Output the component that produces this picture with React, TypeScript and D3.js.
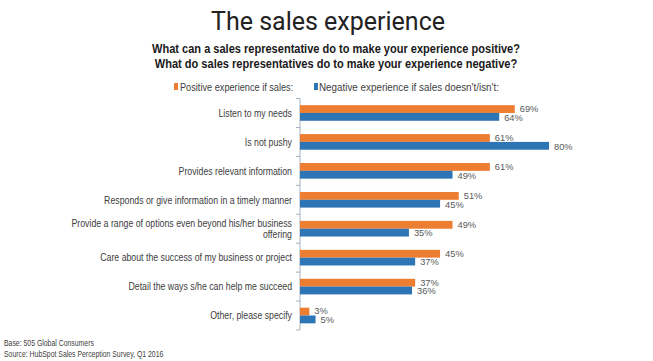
import React from 'react';
import * as d3 from 'd3';

const categories = [
  "Listen to my needs",
  "Is not pushy",
  "Provides relevant information",
  "Responds or give information in a timely manner",
  "Provide a range of options even beyond his/her business offering",
  "Care about the success of my business or project",
  "Detail the ways s/he can help me succeed",
  "Other, please specify",
];
const positive = [69, 61, 61, 51, 49, 45, 37, 3];
const negative = [64, 80, 49, 45, 35, 37, 36, 5];
const seriesNames = ["Positive experience if sales:", "Negative experience if sales doesn't/isn't:"];
const seriesColors = ["#ED7D31", "#2E75B6"];

const sans = "'Liberation Sans', Arial, sans-serif";

const wrap = (s: string, max: number) => {
  const lines: string[] = [];
  let cur = "";
  s.split(" ").forEach(w => {
    if (cur && (cur + " " + w).length > max) { lines.push(cur); cur = w; }
    else cur = cur ? cur + " " + w : w;
  });
  if (cur) lines.push(cur);
  return lines;
};

// narrow look: Arial squeezed horizontally
type NProps = { x: number, y: number, size: number, anchor?: string, weight?: string, fill?: string, sx?: number, dy?: string, children: React.ReactNode };
const NText: React.FC<NProps> = ({ x, y, size, anchor = "start", weight = "normal", fill = "#404040", sx = 0.82, dy, children }) => (
  <text transform={`translate(${x},${y}) scale(${sx},1)`} dy={dy} textAnchor={anchor} fontFamily={sans}
    fontSize={size} fontWeight={weight} fill={fill}>{children}</text>
);

const App: React.FC = () => {
  const width = 653;
  const height = 361;
  const axisX = 300;
  const top = 98.5;
  const bottom = 330;

  const xScale = d3.scaleLinear().domain([0, 80]).range([axisX, 549]);
  const yScale = d3.scaleBand<string>().domain(categories).range([top, bottom]).paddingInner(0.46).paddingOuter(0.23);
  const inner = d3.scaleBand<number>().domain([0, 1]).range([0, yScale.bandwidth()]);
  const step = yScale.step();

  const series = [positive, negative];

  return (
    <svg width={width} height={height} style={{ position: "absolute", left: 0, top: 0, background: "#fff" }}>
      <text x={328} y={30} textAnchor="middle" fontFamily="Roboto, sans-serif" fontSize={25} fill="#222">The sales experience</text>
      <NText x={336} y={53} anchor="middle" weight="bold" size={13} sx={0.85} fill="#1a1a1a">What can a sales representative do to make your experience positive?</NText>
      <NText x={336} y={68} anchor="middle" weight="bold" size={13} sx={0.85} fill="#1a1a1a">What do sales representatives do to make your experience negative?</NText>

      {/* legend */}
      <rect x={174} y={83} width={4} height={7} fill={seriesColors[0]} />
      <NText x={180} y={90.5} size={11.2}>{seriesNames[0]}</NText>
      <rect x={314} y={83} width={4} height={7} fill={seriesColors[1]} />
      <NText x={319} y={90.5} size={11.2} sx={0.88}>{seriesNames[1]}</NText>

      {/* axis */}
      <line x1={axisX} x2={axisX} y1={top} y2={bottom} stroke="#a6b0bd" />
      {d3.range(categories.length + 1).map(i => (
        <line key={i} x1={axisX - 4} x2={axisX} y1={top + i * step} y2={top + i * step} stroke="#a6b0bd" />
      ))}

      {categories.map((c, ci) => {
        const y0 = yScale(c) as number;
        const mid = y0 + yScale.bandwidth() / 2;
        const lines = wrap(c, 56);
        return (
          <g key={c}>
            {lines.map((l, li) => (
              <NText key={li} x={292} y={mid + (li - (lines.length - 1) / 2) * 10.5} dy="0.35em" anchor="end" size={10.7}>{l}</NText>
            ))}
            {series.map((vals, si) => {
              const by = y0 + (inner(si) as number);
              return (
                <g key={si}>
                  <rect x={axisX} y={by} width={xScale(vals[ci]) - axisX} height={inner.bandwidth()} fill={seriesColors[si]} />
                  <text x={xScale(vals[ci]) + 5} y={by + inner.bandwidth() / 2 + (si === 0 ? -0.5 : 0.5)} dy="0.36em"
                    fontFamily={sans} fontSize={9.3} fill="#595959">{vals[ci]}%</text>
                </g>
              );
            })}
          </g>
        );
      })}

      <NText x={4} y={346} size={8.4}>Base: 505  Global Consumers</NText>
      <NText x={4} y={357} size={8.4}>Source: HubSpot Sales Perception Survey, Q1 2016</NText>
    </svg>
  );
};

export default App;
